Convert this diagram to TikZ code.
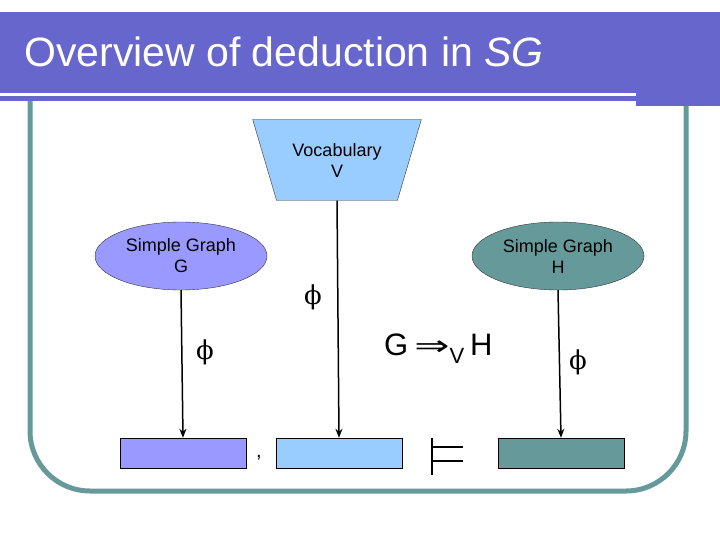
\documentclass[tikz,border=0pt]{standalone}
\usepackage{fontspec}
\setmainfont{Liberation Sans}
\newfontfamily\symfont{DejaVu Serif}
\newfontfamily\arrfont{DejaVu Sans}
\usepackage{tikz}
\usetikzlibrary{shapes.geometric, arrows.meta, positioning}
\definecolor{titleband}{RGB}{102,102,204}
\definecolor{graphG}{RGB}{153,153,255}
\definecolor{vocab}{RGB}{153,204,255}
\definecolor{graphH}{RGB}{102,153,153}

\tikzset{
    graphnode/.style={draw=black!80, ellipse, minimum width=172pt, minimum height=68pt,
        inner sep=0pt, align=center, font=\fontsize{18}{21}\selectfont},
    resultbox/.style={draw=black, rectangle, minimum width=126pt, minimum height=30pt, inner sep=0pt},
    morph/.style={font=\symfont\fontsize{26}{30}\selectfont},
    arrowline/.style={draw=black, line width=1.5pt, -{Stealth[length=9pt,width=7pt]}}
}

\begin{document}
\begin{tikzpicture}[x=1pt, y=-1pt]
    \useasboundingbox (0,0) rectangle (720,540);
    % frame
    \draw[graphH, line width=5pt, rounded corners=60pt] (30,100) -- (30,491) -- (686,491) -- (686,100);
    % title band
    \fill[titleband] (0,12) rectangle (720,101);
    \fill[titleband] (636,12) rectangle (720,106);
    \draw[white, line width=3pt] (0,95) -- (636,95);
    \node[anchor=base west, text=white, font=\fontsize{41}{46}\selectfont, inner sep=0pt] (title) at (24,67)
        {Overview of deduction in \textit{SG}};

    % vocabulary and the two graphs
    \node[draw=black!80, fill=vocab, trapezium, shape border rotate=180, trapezium stretches=true,
          trapezium angle=62.6, minimum width=169pt, minimum height=81pt, inner sep=0pt,
          align=center, font=\fontsize{18}{21}\selectfont] (voc) at (337,160) {Vocabulary\\V};
    \node[graphnode, fill=graphG] (G) at (181,256) {Simple Graph\\G};
    \node[graphnode, fill=graphH] (H) at (558,256) {Simple Graph\\H};

    % boxes
    \node[resultbox, fill=graphG] (boxG) at (183,453) {};
    \node[resultbox, fill=vocab] (boxV) at (339,453) {};
    \node[resultbox, fill=graphH] (boxH) at (561,453) {};
    \node[font=\fontsize{20}{22}\selectfont] (comma) at (259,458) {,};

    % entailment sign
    \coordinate (ent) at (432,438);
    \draw[line width=1.5pt] (ent) -- ++(0,37);
    \draw[line width=1.5pt] (ent) ++(0,9) -- ++(31,0);
    \draw[line width=1.5pt] (ent) ++(0,23) -- ++(31,0);

    % mappings
    \draw[arrowline] (G.south) -- (boxG.north);
    \draw[arrowline] (voc.south) -- (boxV.north);
    \draw[arrowline] (H.south) -- (boxH.north);
    \node[morph] (phiV) at (313,297) {ϕ};
    \node[morph] (phiG) at (205,352) {ϕ};
    \node[morph] (phiH) at (578,362) {ϕ};
    \node[font=\fontsize{31}{34}\selectfont, anchor=base west, inner sep=0pt] (proj) at (384,355)
        {G\hspace{6pt}\scalebox{1.5}[1]{\arrfont\fontsize{28}{34}\selectfont ⇒}\raisebox{-8pt}{\fontsize{22}{24}\selectfont V}\hspace{6pt}H};
\end{tikzpicture}
\end{document}
